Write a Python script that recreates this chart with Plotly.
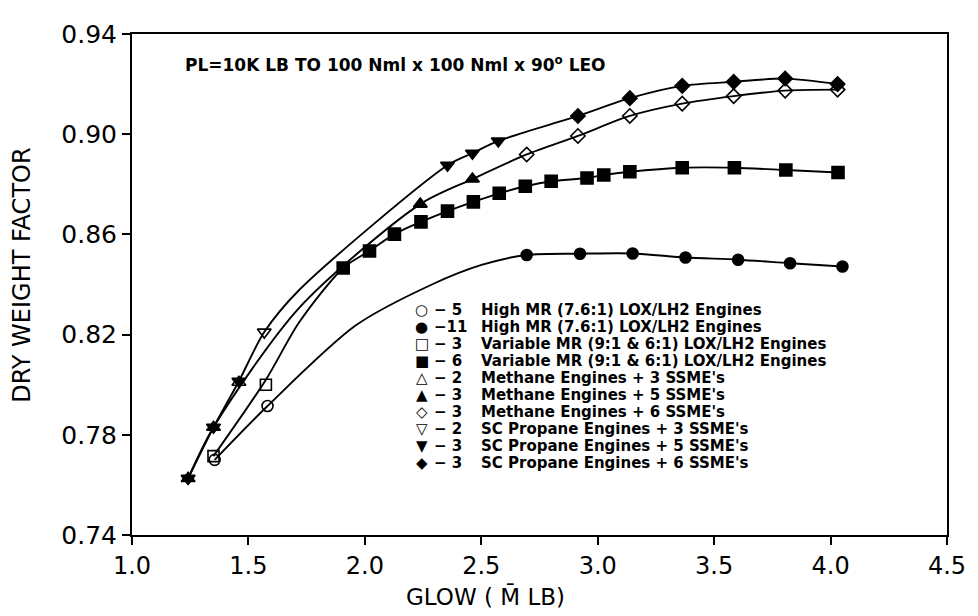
import plotly.graph_objects as go

# ---------------- data ----------------
hm5_x = [1.355, 1.582]
hm5_y = [0.7700, 0.7915]
hm11_x = [2.695, 2.924, 3.150, 3.377, 3.603, 3.826, 4.051]
hm11_y = [0.8518, 0.8523, 0.8524, 0.8508, 0.8499, 0.8485, 0.8472]

vm3_x = [1.350, 1.575]
vm3_y = [0.7715, 0.8000]
vm6_x = [1.907, 2.020, 2.127, 2.241, 2.355, 2.466, 2.577, 2.689, 2.800,
         2.954, 3.026, 3.138, 3.363, 3.587, 3.808, 4.032]
vm6_y = [0.8466, 0.8534, 0.8601, 0.8650, 0.8693, 0.8730, 0.8764, 0.8792, 0.8812,
         0.8825, 0.8837, 0.8850, 0.8866, 0.8866, 0.8857, 0.8847]

me3_x = [1.459]
me3_y = [0.8010]
me5_x = [1.241, 1.350, 2.238, 2.462]
me5_y = [0.7626, 0.7830, 0.8721, 0.8821]
me6_x = [2.695, 2.915, 3.138, 3.363, 3.584, 3.805, 4.030]
me6_y = [0.8919, 0.8993, 0.9073, 0.9122, 0.9152, 0.9174, 0.9178]

pr3_x = [1.568]
pr3_y = [0.8210]
pr5_x = [1.241, 1.350, 1.459, 2.355, 2.462, 2.573]
pr5_y = [0.7626, 0.7830, 0.8014, 0.8876, 0.8924, 0.8973]
pr6_x = [2.915, 3.138, 3.363, 3.584, 3.805, 4.030]
pr6_y = [0.9073, 0.9144, 0.9193, 0.9209, 0.9222, 0.9200]

# fitted curves drawn in the chart, read where no marker sits
hm_path_x = [1.96, 2.288, 2.501]
hm_path_y = [0.8236, 0.8400, 0.8478]
vm_path_x = [1.350, 1.575, 1.718]
vm_path_y = [0.7715, 0.8020, 0.8249]
me_path_x = [1.718]
me_path_y = [0.8307]
pr_path_x = [1.718]
pr_path_y = [0.8378]

legend_symbols = ["○", "●", "□", "■", "△", "▲", "◇", "▽", "▼", "◆"]
legend_counts = ["− 5", "−11", "− 3", "− 6", "− 2", "− 3", "− 3", "− 2", "− 3", "− 3"]
legend_labels = [
    "High MR (7.6:1) LOX/LH2 Engines",
    "High MR (7.6:1) LOX/LH2 Engines",
    "Variable MR (9:1 & 6:1) LOX/LH2 Engines",
    "Variable MR (9:1 & 6:1) LOX/LH2 Engines",
    "Methane Engines + 3 SSME's",
    "Methane Engines + 5 SSME's",
    "Methane Engines + 6 SSME's",
    "SC Propane Engines + 3 SSME's",
    "SC Propane Engines + 5 SSME's",
    "SC Propane Engines + 6 SSME's",
]

x_ticks = [1.0, 1.5, 2.0, 2.5, 3.0, 3.5, 4.0, 4.5]
y_ticks = [0.74, 0.78, 0.82, 0.86, 0.90, 0.94]

title_text = "<b>PL=10K LB TO 100 Nml x 100 Nml x 90<sup>o</sup> LEO</b>"
x_title = "GLOW ( M\u0304 LB)"
y_title = "DRY WEIGHT FACTOR"

# ---------------- figure ----------------
fig = go.Figure()


def curve(*pairs):
    pts = []
    for xs, ys in pairs:
        pts += list(zip(xs, ys))
    pts.sort()
    return [p[0] for p in pts], [p[1] for p in pts]


curves = [
    curve((hm5_x, hm5_y), (hm_path_x, hm_path_y), (hm11_x, hm11_y)),
    curve((vm_path_x, vm_path_y), (vm6_x, vm6_y)),
    curve((me5_x, me5_y), (me_path_x, me_path_y), (me6_x, me6_y)),
    curve((pr5_x, pr5_y), (pr3_x, pr3_y), (pr_path_x, pr_path_y), (pr6_x, pr6_y)),
]
for cx, cy in curves:
    fig.add_trace(go.Scatter(x=cx, y=cy, mode="lines",
                             line=dict(color="black", width=1.9, shape="spline", smoothing=0.8),
                             showlegend=False, hoverinfo="skip"))

series = [
    (hm5_x, hm5_y, "circle-open", 11),
    (vm3_x, vm3_y, "square-open", 11),
    (me3_x, me3_y, "triangle-up-open", 12),
    (hm11_x, hm11_y, "circle", 11),
    (vm6_x, vm6_y, "square", 12),
    (me5_x, me5_y, "triangle-up", 12),
    (me6_x, me6_y, "diamond-open", 11),
    (pr3_x, pr3_y, "triangle-down-open", 12),
    (pr5_x, pr5_y, "triangle-down", 12),
    (pr6_x, pr6_y, "diamond", 11),
]
for sx, sy, sym, sz in series:
    fig.add_trace(go.Scatter(x=sx, y=sy, mode="markers",
                             marker=dict(symbol=sym, size=sz, color="black",
                                         line=dict(color="black", width=1.6)),
                             showlegend=False))

# The page body has an 8px margin; the figure is sized so the plot area lands
# at x 132..951, y 20..535 of the window.
fig.update_layout(
    width=970, height=608,
    margin=dict(l=124, r=27, t=12, b=81),
    paper_bgcolor="white", plot_bgcolor="white",
    showlegend=False,
    xaxis=dict(range=[1.0, 4.5], tickvals=x_ticks, ticktext=[f"{v:.1f}" for v in x_ticks],
               showgrid=False, zeroline=False, showline=True, linecolor="black", linewidth=2,
               mirror=True, ticks="outside", ticklen=8, tickwidth=1.5, tickcolor="black",
               ticklabeloverflow="allow",
               tickfont=dict(family="DejaVu Sans", size=24, color="black")),
    yaxis=dict(range=[0.74, 0.94], tickvals=y_ticks, ticktext=[f"{v:.2f}" for v in y_ticks],
               showgrid=False, zeroline=False, showline=True, linecolor="black", linewidth=2,
               mirror=True, ticks="outside", ticklen=8, tickwidth=1.5, tickcolor="black",
               ticklabeloverflow="allow",
               tickfont=dict(family="DejaVu Sans", size=25, color="black")),
    xaxis2=dict(range=[1.0, 4.5], tickvals=x_ticks, overlaying="x", anchor="y",
                showgrid=False, zeroline=False, showline=False, showticklabels=False,
                ticks="inside", ticklen=8, tickwidth=1.5, tickcolor="black"),
    yaxis2=dict(range=[0.74, 0.94], tickvals=y_ticks, overlaying="y", anchor="x",
                showgrid=False, zeroline=False, showline=False, showticklabels=False,
                ticks="inside", ticklen=8, tickwidth=1.5, tickcolor="black"),
)

W, H = 819.0, 515.0  # plot area size in px


def px_x(p):
    return (p - 132) / W


def px_y(p):
    return (535 - p) / H


annos = []
annos.append(dict(text=title_text, x=px_x(183), y=px_y(51), xref="paper", yref="paper",
                  xanchor="left", yanchor="middle", showarrow=False,
                  font=dict(family="DejaVu Sans", size=17, color="black")))
annos.append(dict(text=x_title, x=px_x(487), y=px_y(598), xref="paper", yref="paper",
                  xanchor="center", yanchor="middle", showarrow=False,
                  font=dict(family="DejaVu Sans", size=23, color="black")))
annos.append(dict(text=y_title, x=px_x(22), y=px_y(268), xref="paper", yref="paper", textangle=-90,
                  xanchor="center", yanchor="middle", showarrow=False,
                  font=dict(family="DejaVu Sans", size=24, color="black")))

for i in range(len(legend_labels)):
    yc = px_y(304 + 17.5 * i)
    annos.append(dict(text=legend_symbols[i], x=px_x(423), y=yc, xref="paper", yref="paper",
                      xanchor="center", yanchor="middle", showarrow=False,
                      font=dict(family="DejaVu Sans", size=15, color="black")))
    annos.append(dict(text="<b>" + legend_counts[i] + "</b>", x=px_x(433), y=yc, xref="paper", yref="paper",
                      xanchor="left", yanchor="middle", showarrow=False,
                      font=dict(family="DejaVu Sans", size=15, color="black")))
    annos.append(dict(text="<b>" + legend_labels[i] + "</b>", x=px_x(481), y=yc, xref="paper", yref="paper",
                      xanchor="left", yanchor="middle", showarrow=False,
                      font=dict(family="DejaVu Sans", size=15, color="black")))

fig.update_layout(annotations=annos)
fig.write_html("out.html")
